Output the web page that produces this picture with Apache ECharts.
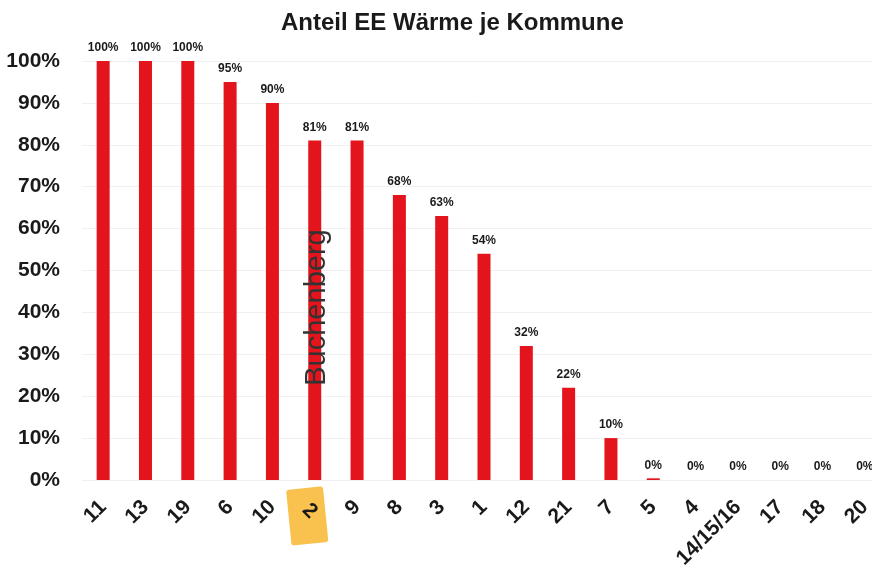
<!DOCTYPE html>
<html>
<head>
<meta charset="utf-8">
<script src="https://cdn.jsdelivr.net/npm/echarts@6/dist/echarts.min.js"></script>
<style>
  html, body { margin: 0; padding: 0; background: #fff; }
  #anteilChart { width: 872px; height: 565px; }
</style>
</head>
<body>
<div id="anteilChart"></div>
<script>
var kommunen = ['11', '13', '19', '6', '10', '2', '9', '8', '3', '1', '12', '21', '7', '5', '4', '14/15/16', '17', '18', '20'];
var anteilEE = [100, 100, 100, 95, 90, 81, 81, 68, 63, 54, 32, 22, 10, 0.4, 0, 0, 0, 0, 0];
var yTicks = [0, 10, 20, 30, 40, 50, 60, 70, 80, 90, 100];
var markiert = '2';

var fontNarrow = '"Liberation Sans Narrow", "Liberation Sans", Arial, sans-serif';
var myChart = echarts.init(document.getElementById('anteilChart'));
var option = {
  backgroundColor: '#fff',
  title: {
    text: 'Anteil EE Wärme je Kommune',
    left: 276,
    top: 6,
    textStyle: { fontFamily: fontNarrow, fontSize: 24, fontWeight: 'bold', color: '#1a1a1a' }
  },
  grid: { left: 82, top: 61, width: 804, height: 419, containLabel: false, outerBoundsMode: 'none' },
  xAxis: {
    type: 'category',
    data: kommunen,
    axisLine: { show: false },
    axisTick: { show: false },
    axisLabel: {
      interval: 0,
      rotate: 45,
      margin: 24,
      fontFamily: fontNarrow,
      fontSize: 21,
      fontWeight: 'bold',
      color: '#1a1a1a',
      padding: [0, 0, 0, 0],
      formatter: function (val) { return val === markiert ? '' : val; }
    }
  },
  yAxis: {
    type: 'value',
    min: 0,
    max: 100,
    interval: 10,
    axisLine: { show: false },
    axisTick: { show: false },
    splitLine: { lineStyle: { color: '#f0f0f0', width: 1 } },
    axisLabel: {
      margin: 22,
      fontFamily: fontNarrow,
      fontSize: 21,
      fontWeight: 'bold',
      color: '#1a1a1a',
      formatter: function (v) { return yTicks.indexOf(v) >= 0 ? v + '%' : ''; }
    }
  },
  series: [{
    name: 'Anteil EE',
    type: 'bar',
    data: anteilEE,
    barWidth: 13,
    itemStyle: { color: '#e3141b' },
    label: {
      show: true,
      position: 'top',
      distance: 7,
      fontFamily: fontNarrow,
      fontSize: 12,
      fontWeight: 'bold',
      color: '#1a1a1a',
      formatter: function (p) { return Math.round(p.value) + '%'; }
    }
  }]
};
myChart.setOption(option);

// Markierung unter "2" und Beschriftung Buchenberg
var p0 = myChart.convertToPixel({ xAxisIndex: 0, yAxisIndex: 0 }, [markiert, 0]);
var pTxt = myChart.convertToPixel({ xAxisIndex: 0, yAxisIndex: 0 }, [markiert, 22.5]);
myChart.setOption({
  graphic: [{
    type: 'rect',
    x: p0[0] - 8,
    y: p0[1] + 36,
    rotation: 0.1,
    shape: { x: -18, y: -28, width: 37, height: 56, r: 3 },
    style: { fill: '#f8bb3c', opacity: 0.9 },
    z: 1
  }, {
    type: 'text',
    x: p0[0] - 5,
    y: p0[1] + 31,
    rotation: -Math.PI / 4,
    style: {
      text: markiert,
      fontFamily: fontNarrow,
      fontSize: 21,
      fontWeight: 'bold',
      fill: '#1a1a1a',
      align: 'center',
      verticalAlign: 'middle'
    },
    z: 2
  }, {
    type: 'text',
    x: pTxt[0] + 2,
    y: pTxt[1],
    rotation: Math.PI / 2,
    style: {
      text: 'Buchenberg',
      fontFamily: '"Liberation Sans", Arial, sans-serif',
      fontSize: 29,
      fill: '#333333',
      align: 'left',
      verticalAlign: 'middle'
    },
    z: 100
  }]
});
</script>
</body>
</html>
